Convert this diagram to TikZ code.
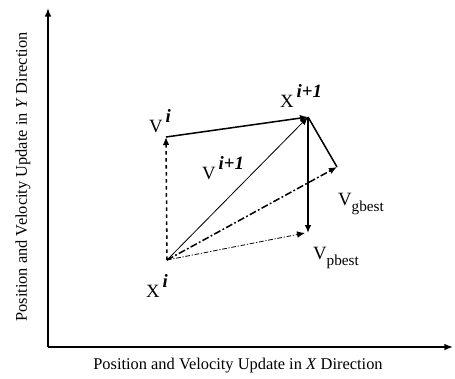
\documentclass[tikz,border=0pt]{standalone}
\usepackage{fontspec}
\setmainfont{Liberation Serif}
\usetikzlibrary{arrows.meta, positioning}

\newcommand\upidx[1]{\raisebox{1.1ex}{\textbf{\textit{#1}}}}
\newcommand\lowidx[1]{\raisebox{-0.6ex}{\fontsize{13}{15}\selectfont #1}}

\begin{document}
\begin{tikzpicture}[
        x=0.03cm, y=-0.03cm,
        font=\fontsize{16}{18}\selectfont,
        axis/.style={
            -{Latex[length=2.6mm, width=2mm]},
            line width=1.3pt
        },
        vecthick/.style={
            -{Latex[length=2.4mm, width=2mm]},
            line width=1.3pt
        },
        vecthin/.style={
            -{Latex[length=2.4mm, width=2mm]},
            line width=0.7pt
        },
        axislabel/.style={
            font=\fontsize{14}{16}\selectfont
        },
        veclabel/.style={
            inner sep=1pt
        }
    ]

    \useasboundingbox (0,0) rectangle (455,378);

    % axes
    \coordinate (orig) at (48,347);
    \coordinate (ytip) at (48,8);
    \coordinate (xtip) at (453,347);
    \draw[axis] (orig) -- (ytip);
    \draw[axis] (orig) -- (xtip);

    \node[axislabel, rotate=90] (ylab) at (23,177) {Position and Velocity Update in \textit{Y} Direction};
    \node[axislabel] (xlab) at (238,366) {Position and Velocity Update in \textit{X} Direction};

    % vector points
    \coordinate (xi) at (167,260);
    \coordinate (vi) at (166,137);
    \coordinate (xnext) at (308,117);
    \coordinate (gbest) at (337,167);
    \coordinate (pbest) at (305,233);

    \draw[vecthick, dashed] (xi) -- (vi);
    \draw[vecthick] (vi) -- (xnext);
    \draw[vecthin] (xi) -- (xnext);
    \draw[vecthick, dash pattern=on 6pt off 2pt on 1.5pt off 2pt] (xi) -- (gbest);
    \draw[vecthin, dash pattern=on 4pt off 1.5pt on 1pt off 1.5pt] (xi) -- (pbest);
    \draw[vecthick] (xnext) -- (xnext |- pbest);
    \draw[line width=1.3pt] (xnext) -- (gbest);

    % labels
    \node[veclabel] (vilab) at (160,121) {V\,\upidx{i}};
    \node[veclabel] (xnextlab) at (301,96) {X\,\upidx{i+1}};
    \node[veclabel] (vnextlab) at (223,168) {V\,\upidx{i+1}};
    \node[veclabel] (gbestlab) at (361,204) {V\lowidx{gbest}};
    \node[veclabel] (pbestlab) at (336,258) {V\lowidx{pbest}};
    \node[veclabel] (xilab) at (157,286) {X\,\upidx{i}};

\end{tikzpicture}
\end{document}
